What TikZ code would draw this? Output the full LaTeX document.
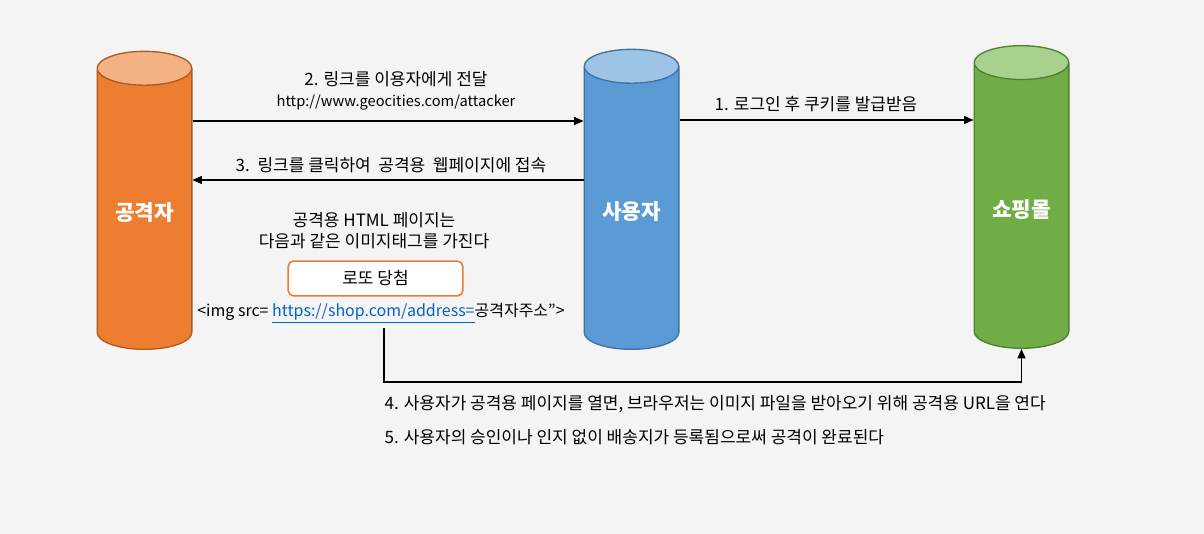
\documentclass[tikz,border=0pt]{standalone}
\usepackage{fontspec}
\setmainfont{Noto Sans CJK KR}[Ligatures=ResetAll]
\usepackage{xcolor}
\usetikzlibrary{arrows.meta,positioning,shapes.geometric}

\definecolor{canvas}{HTML}{F4F4F4}
\definecolor{orangebody}{HTML}{ED7D31}
\definecolor{orangetop}{HTML}{F4B183}
\definecolor{orangeline}{HTML}{AE5A21}
\definecolor{bluebody}{HTML}{5B9BD5}
\definecolor{bluetop}{HTML}{9DC3E6}
\definecolor{blueline}{HTML}{41719C}
\definecolor{greenbody}{HTML}{70AD47}
\definecolor{greentop}{HTML}{A9D18E}
\definecolor{greenline}{HTML}{507E32}
\definecolor{linkblue}{HTML}{0563C1}

\begin{document}
\begin{tikzpicture}[
x=0.75pt, y=-0.75pt,
font=\fontsize{12.75}{15.75}\selectfont,
party/.style={cylinder, shape border rotate=90, aspect=0.5, draw, line width=1pt, minimum width=71pt, anchor=south, cylinder uses custom fill, text=white, font=\fontsize{16}{18}\selectfont\bfseries},
msg/.style={align=center, inner sep=1pt},
prize/.style={draw=orangebody, fill=white, rounded corners=4pt, line width=1.2pt, minimum width=131pt, minimum height=26pt},
line/.style={-{Triangle[length=7pt, width=6pt]}, line width=0.8pt}
]

% --- Canvas ---
\fill[canvas] (0,0) rectangle (1204,534);

% --- Parties ---
\node[party, minimum height=223.5pt, draw=orangeline, cylinder body fill=orangebody, cylinder end fill=orangetop] (attacker) at (144.5,350) {공격자};
\node[party, minimum height=225pt, draw=blueline, cylinder body fill=bluebody, cylinder end fill=bluetop] (user) at (631.5,350) {사용자};
\node[party, minimum height=227pt, draw=greenline, cylinder body fill=greenbody, cylinder end fill=greentop] (mall) at (1021.5,349) {쇼핑몰};

% --- Messages ---
\node[msg] (sendlink) at (396,91) {2. 링크를 이용자에게 전달\\{\fontsize{11}{15.75}\selectfont http://www.geocities.com/attacker}};
\node[msg] (cookie) at (816,104) {1. 로그인 후 쿠키를 발급받음};
\node[msg] (visit) at (391,165) {3.\ \ 링크를 클릭하여\ \ 공격용\ \ 웹페이지에 접속};

% --- Attack page ---
\node[msg] (page) at (374,231) {공격용 HTML 페이지는\\다음과 같은 이미지태그를 가진다};
\node[prize] (lotto) at (375.5,278.5) {로또 당첨};
\node[msg, font=\fontsize{12}{15}\selectfont] (imgtag) at (381,313) {<img src= \textcolor{linkblue}{\underline{https://shop.com/address=}}공격자주소">};
\coordinate (tagpin) at (384,328);

% --- Steps ---
\node[msg, anchor=west] (openpage) at (383,404) {4. 사용자가 공격용 페이지를 열면, 브라우저는 이미지 파일을 받아오기 위해 공격용 URL을 연다};
\node[msg, anchor=west] (done) at (383,437) {5. 사용자의 승인이나 인지 없이 배송지가 등록됨으로써 공격이 완료된다};

% --- Connections ---
\draw[line] (attacker.east |- 0,121) -- (user.west |- 0,121);
\draw[line] (user.west |- 0,180) -- (attacker.east |- 0,180);
\draw[line] (user.east |- 0,120) -- (mall.west |- 0,120);
\draw[line] (tagpin) -- ++(0,54) -| (mall.south);

\end{tikzpicture}
\end{document}
